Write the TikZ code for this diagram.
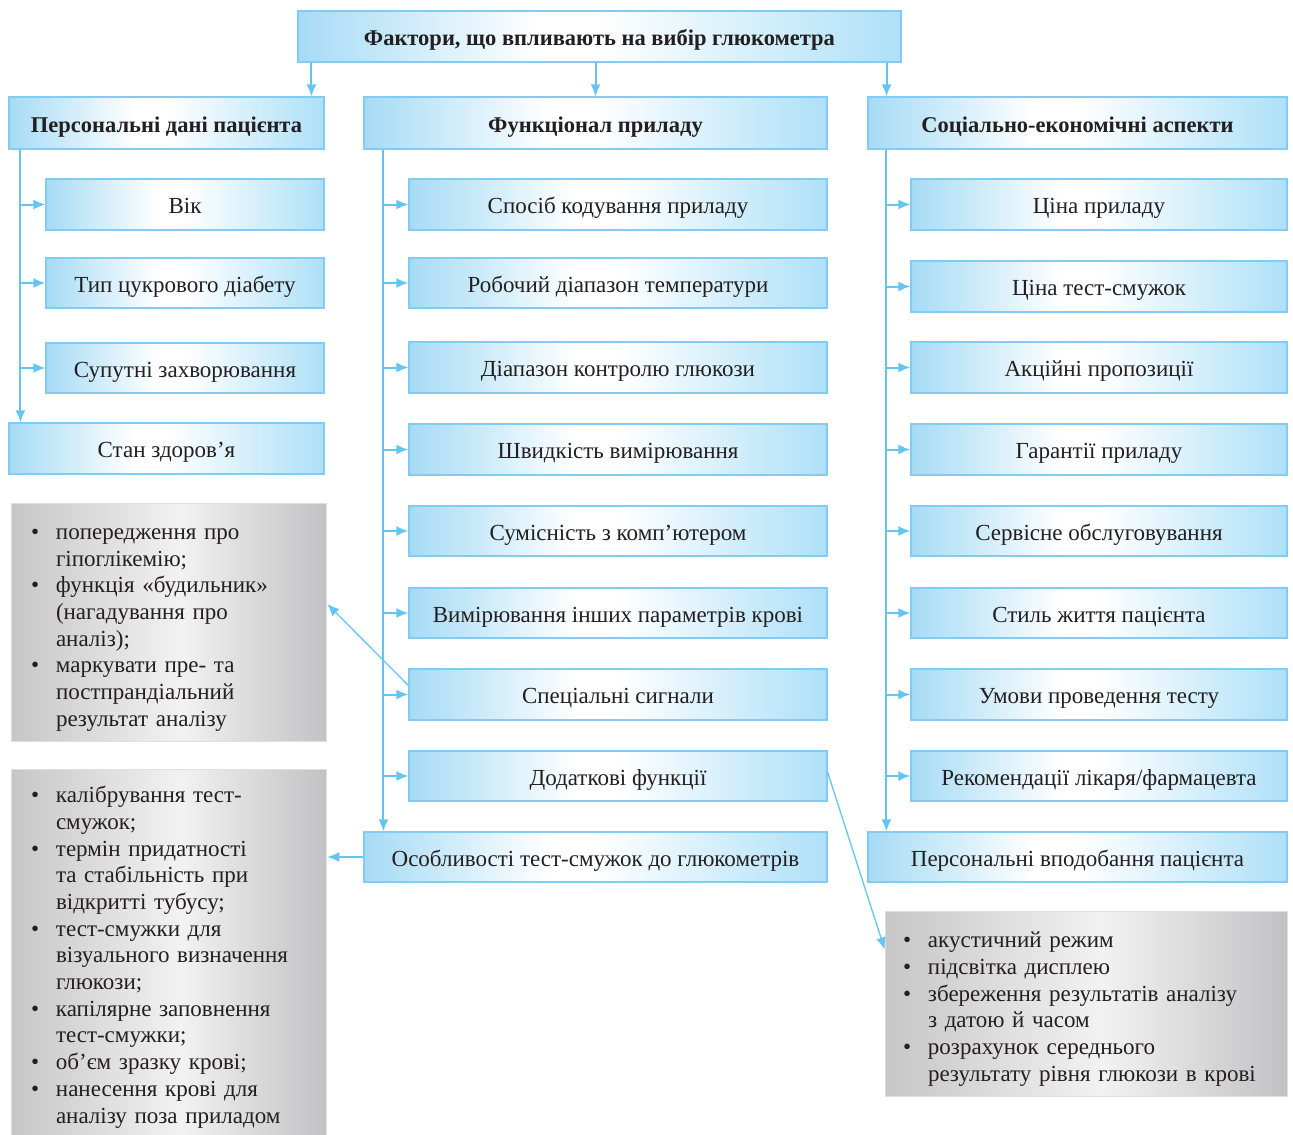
\documentclass[tikz,border=0pt]{standalone}
\usepackage{fontspec}
\setmainfont{Liberation Serif}
\usetikzlibrary{arrows.meta}

\definecolor{bA}{RGB}{166,219,245}
\definecolor{bB}{RGB}{174,224,248}
\definecolor{bdr}{RGB}{128,204,242}
\definecolor{arrc}{RGB}{100,198,240}
\definecolor{gA}{RGB}{198,198,199}
\definecolor{gM}{RGB}{242,242,242}
\definecolor{gB}{RGB}{194,194,196}
\definecolor{txt}{RGB}{35,31,32}

\pgfdeclarehorizontalshading{bluegrad}{100bp}{color(0bp)=(bA); color(25bp)=(bA); color(45bp)=(white); color(50bp)=(white); color(75bp)=(bB); color(100bp)=(bB)}
\pgfdeclarehorizontalshading{graygrad}{100bp}{color(0bp)=(gA); color(25bp)=(gA); color(52bp)=(gM); color(75bp)=(gB); color(100bp)=(gB)}

\newcommand\bitem[1]{\par\noindent\hangindent=25pt\hangafter=1\makebox[25pt][l]{\textbullet}#1\par}

\tikzset{
  bbox/.style={draw=bdr, line width=1.2pt, shading=bluegrad, text=txt,
    font=\fontsize{23}{26}\selectfont, inner sep=0pt, align=center,
    text height=20pt, text depth=2pt},
  hbox/.style={bbox, font=\bfseries\fontsize{22.5}{26}\selectfont},
  gbox/.style={shading=graygrad, draw=gray!25, line width=0.6pt, text=txt,
    font=\fontsize{23}{26.7}\selectfont, align=left, inner ysep=0pt},
  arr/.style={draw=arrc, line width=2pt, -{Latex[length=12pt,width=10pt]}},
  arrs/.style={draw=arrc, line width=1.3pt, -{Latex[length=12pt,width=10pt]}}
}

\begin{document}
\begin{tikzpicture}[x=1pt,y=-1pt]
\useasboundingbox (0,0) rectangle (1293,1135);

% top and headers
\node[hbox, minimum width=603pt, minimum height=51pt] (top) at (599.5,36.5) {Фактори, що впливають на вибір глюкометра};
\node[hbox, minimum width=315pt, minimum height=52pt] (h1) at (166.5,123) {Персональні дані пацієнта};
\node[hbox, minimum width=463pt, minimum height=52pt] (h2) at (595.5,123) {Функціонал приладу};
\node[hbox, minimum width=419pt, minimum height=52pt] (h3) at (1077.5,123) {Соціально-економічні аспекти};

% column 1
\node[bbox, minimum width=278pt, minimum height=51pt] (a1) at (185,204.5) {Вік};
\node[bbox, minimum width=278pt, minimum height=50pt] (a2) at (185,283) {Тип цукрового діабету};
\node[bbox, minimum width=278pt, minimum height=50pt] (a3) at (185,368) {Супутні захворювання};
\node[bbox, minimum width=315pt, minimum height=51pt] (a4) at (166.5,448.5) {Стан здоров’я};

% column 2
\node[bbox, minimum width=418pt, minimum height=51pt] (b1) at (618,204.5) {Спосіб кодування приладу};
\node[bbox, minimum width=418pt, minimum height=50pt] (b2) at (618,283) {Робочий діапазон температури};
\node[bbox, minimum width=418pt, minimum height=51pt] (b3) at (618,367.5) {Діапазон контролю глюкози};
\node[bbox, minimum width=418pt, minimum height=51pt] (b4) at (618,449.5) {Швидкість вимірювання};
\node[bbox, minimum width=418pt, minimum height=50pt] (b5) at (618,531) {Сумісність з комп’ютером};
\node[bbox, minimum width=418pt, minimum height=50pt] (b6) at (618,613) {Вимірювання інших параметрів крові};
\node[bbox, minimum width=418pt, minimum height=51pt] (b7) at (618,694.5) {Спеціальні сигнали};
\node[bbox, minimum width=418pt, minimum height=50pt] (b8) at (618,776) {Додаткові функції};
\node[bbox, minimum width=463pt, minimum height=50pt] (b9) at (595.5,857) {Особливості тест-смужок до глюкометрів};

% column 3
\node[bbox, minimum width=376pt, minimum height=51pt] (c1) at (1099,204.5) {Ціна приладу};
\node[bbox, minimum width=376pt, minimum height=51pt] (c2) at (1099,286.5) {Ціна тест-смужок};
\node[bbox, minimum width=376pt, minimum height=51pt] (c3) at (1099,367.5) {Акційні пропозиції};
\node[bbox, minimum width=376pt, minimum height=51pt] (c4) at (1099,449.5) {Гарантії приладу};
\node[bbox, minimum width=376pt, minimum height=50pt] (c5) at (1099,531) {Сервісне обслуговування};
\node[bbox, minimum width=376pt, minimum height=50pt] (c6) at (1099,613) {Стиль життя пацієнта};
\node[bbox, minimum width=376pt, minimum height=51pt] (c7) at (1099,694.5) {Умови проведення тесту};
\node[bbox, minimum width=376pt, minimum height=50pt] (c8) at (1099,776) {Рекомендації лікаря/фармацевта};
\node[bbox, minimum width=419pt, minimum height=50pt] (c9) at (1077.5,857) {Персональні вподобання пацієнта};

% gray boxes
\node[gbox, inner xsep=20pt, text width=275pt, minimum height=238pt] (g1) at (168.5,622) {%
\bitem{попередження про\newline гіпоглікемію;}
\bitem{функція «будильник»\newline (нагадування про\newline аналіз);}
\bitem{маркувати пре- та\newline постпрандіальний\newline результат аналізу}};
\node[gbox, inner xsep=20pt, text width=275pt, minimum height=366pt] (g2) at (168.5,952) {%
\bitem{калібрування тест-\newline смужок;}
\bitem{термін придатності\newline та стабільність при\newline відкритті тубусу;}
\bitem{тест-смужки для\newline візуального визначення\newline глюкози;}
\bitem{капілярне заповнення\newline тест-смужки;}
\bitem{об’єм зразку крові;}
\bitem{нанесення крові для\newline аналізу поза приладом}};
\node[gbox, inner xsep=18pt, text width=366pt, minimum height=185pt] (g3) at (1086,1003.5) {%
\bitem{акустичний режим}
\bitem{підсвітка дисплею}
\bitem{збереження результатів аналізу\newline з датою й часом}
\bitem{розрахунок середнього\newline результату рівня глюкози в крові}};

% top arrows
\draw[arr] ([xshift=14pt]top.south west) -- ([xshift=14pt]top.south west |- h1.north);
\draw[arr] (top.south -| h2.north) -- (h2.north);
\draw[arr] ([xshift=-15pt]top.south east) -- ([xshift=-15pt]top.south east |- h3.north);

% column spines
\coordinate (s1) at ([xshift=12pt]h1.south west);
\coordinate (s2) at ([xshift=20pt]h2.south west);
\coordinate (s3) at ([xshift=19pt]h3.south west);
\draw[arr] (s1) -- (s1 |- a4.north);
\draw[arr] (s2) -- (s2 |- b9.north);
\draw[arr] (s3) -- (s3 |- c9.north);
\foreach \n in {a1,a2,a3} \draw[arr] (s1 |- \n.west) -- (\n.west);
\foreach \n in {b1,b2,b3,b4,b5,b6,b7,b8} \draw[arr] (s2 |- \n.west) -- (\n.west);
\foreach \n in {c1,c2,c3,c4,c5,c6,c7,c8} \draw[arr] (s3 |- \n.west) -- (\n.west);

% side connectors
\draw[arrs] ([yshift=9pt]b7.west) -- ([yshift=18pt,xshift=1pt]g1.east);
\draw[arrs] (b9.west) -- ([xshift=1pt]g2.east |- b9.west);
\draw[arrs] ([yshift=4pt]b8.east) -- ([yshift=54pt]g3.west);
\end{tikzpicture}
\end{document}
